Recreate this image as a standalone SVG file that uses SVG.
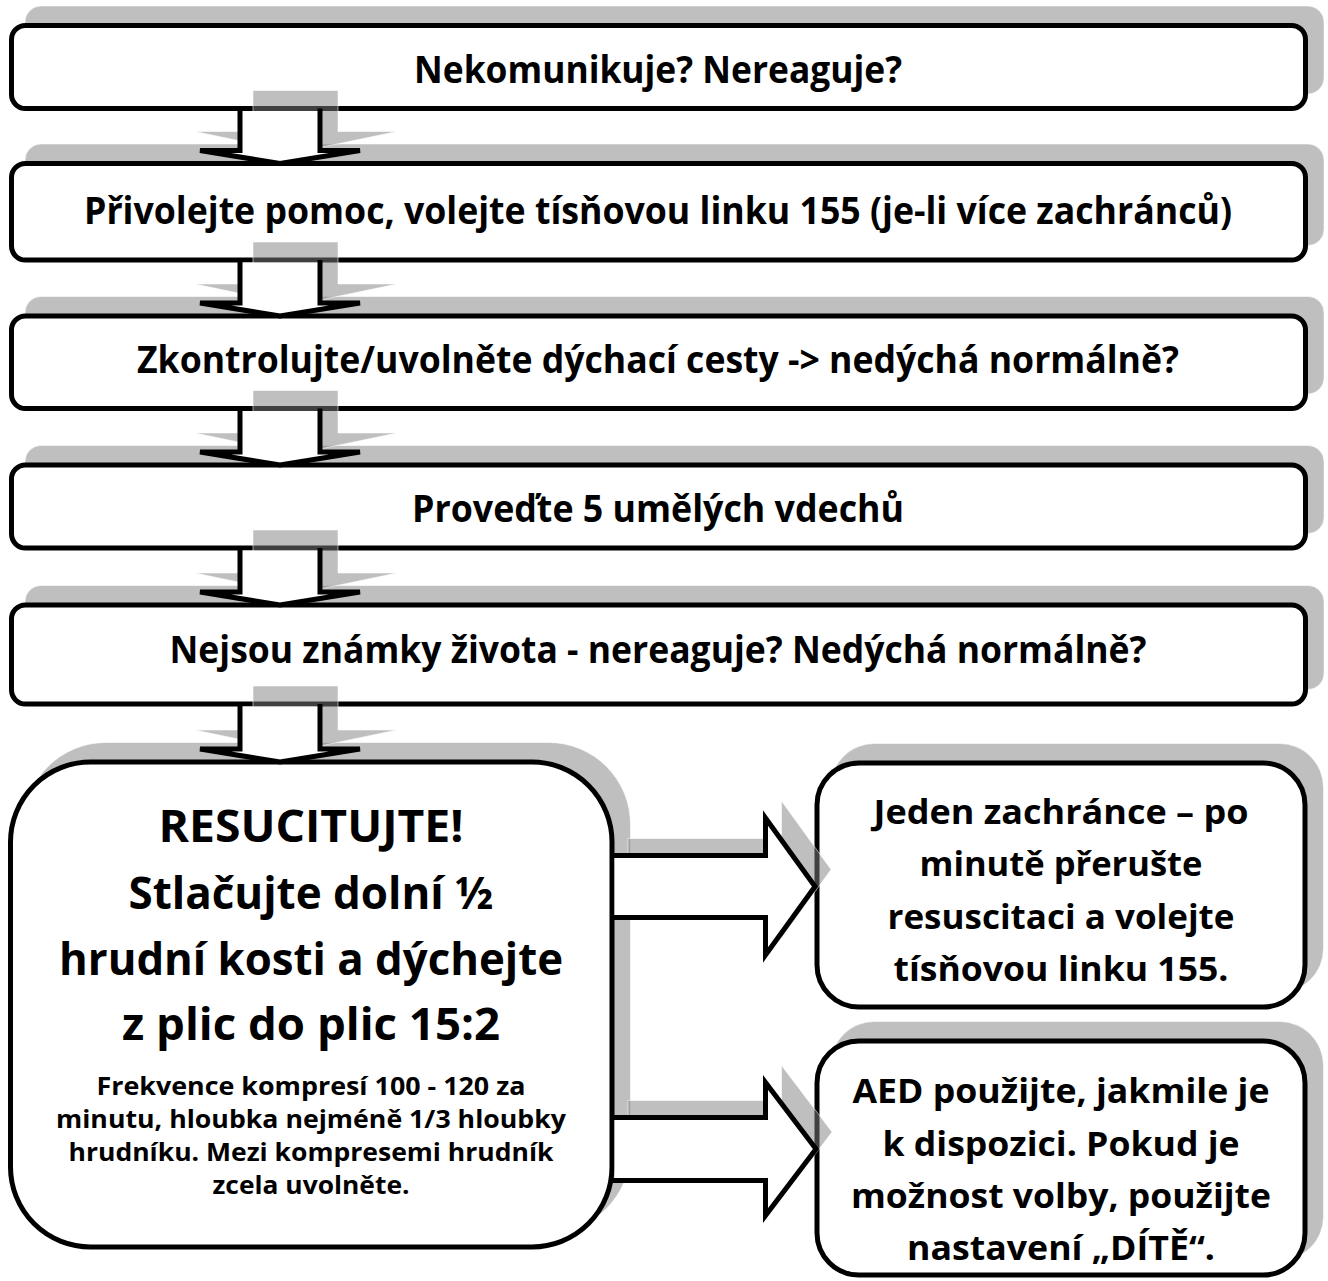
<svg xmlns="http://www.w3.org/2000/svg" width="1328" height="1281" viewBox="0 0 1328 1281">
<style>
.sh{fill:#808080;fill-opacity:.5;stroke:#fff;stroke-opacity:.55;stroke-width:1}
.bx{fill:#fff;stroke:#000;stroke-width:5}
.af{fill:#fff;stroke:none}
.ao{fill:none;stroke:#000;stroke-width:5;stroke-linejoin:miter;stroke-miterlimit:4}
text{font-family:"Open Sans","Liberation Sans",sans-serif;font-weight:700;fill:#000;text-anchor:middle}
.t1{font-size:37.5px}
.tb{font-size:45px}
.ts{font-size:25px}
.tr{font-size:34.5px}
</style>
<rect width="1328" height="1281" fill="#fff"/>
<g id="n1">
<rect class="sh" x="25" y="6" width="1299" height="88" rx="16"/>
<rect class="bx" x="11.5" y="25.5" width="1294" height="83" rx="14"/>
<text class="t1" x="658" y="82.5" textLength="488" lengthAdjust="spacingAndGlyphs">Nekomunikuje? Nereaguje?</text>
</g>
<g id="n2">
<rect class="sh" x="25" y="144" width="1299" height="101.5" rx="16"/>
<rect class="bx" x="11.5" y="163.5" width="1294" height="96.5" rx="14"/>
<text class="t1" x="658" y="223.5" textLength="1148" lengthAdjust="spacingAndGlyphs">Přivolejte pomoc, volejte tísňovou linku 155 (je-li více zachránců)</text>
</g>
<g id="n3">
<rect class="sh" x="25" y="296.5" width="1299" height="97.5" rx="16"/>
<rect class="bx" x="11.5" y="316" width="1294" height="92.5" rx="14"/>
<text class="t1" x="658" y="373" textLength="1042" lengthAdjust="spacingAndGlyphs">Zkontrolujte/uvolněte dýchací cesty -&gt; nedýchá normálně?</text>
</g>
<g id="n4">
<rect class="sh" x="25" y="445.5" width="1299" height="88" rx="16"/>
<rect class="bx" x="11.5" y="465" width="1294" height="83" rx="14"/>
<text class="t1" x="658" y="521.5" textLength="492" lengthAdjust="spacingAndGlyphs">Proveďte 5 umělých vdechů</text>
</g>
<g id="n5">
<rect class="sh" x="25" y="585.5" width="1299" height="104" rx="16"/>
<rect class="bx" x="11.5" y="605" width="1294" height="99" rx="14"/>
<text class="t1" x="658" y="663" textLength="977" lengthAdjust="spacingAndGlyphs">Nejsou známky života - nereaguje? Nedýchá normálně?</text>
</g>
<g id="n6">
<rect class="sh" x="24" y="742.5" width="606.5" height="490" rx="82"/>
<rect class="bx" x="10.5" y="762" width="601.5" height="485" rx="80"/>
<text class="tb" x="311" y="842" textLength="305" lengthAdjust="spacingAndGlyphs">RESUCITUJTE!</text>
<text class="tb" x="311" y="909" textLength="365" lengthAdjust="spacingAndGlyphs">Stlačujte dolní ½</text>
<text class="tb" x="311" y="975" textLength="504" lengthAdjust="spacingAndGlyphs">hrudní kosti a dýchejte</text>
<text class="tb" x="311" y="1040" textLength="378" lengthAdjust="spacingAndGlyphs">z plic do plic 15:2</text>
<text class="ts" x="311" y="1095" textLength="429" lengthAdjust="spacingAndGlyphs">Frekvence kompresí 100 - 120 za</text>
<text class="ts" x="311" y="1128" textLength="510" lengthAdjust="spacingAndGlyphs">minutu, hloubka nejméně 1/3 hloubky</text>
<text class="ts" x="311" y="1161" textLength="485" lengthAdjust="spacingAndGlyphs">hrudníku. Mezi kompresemi hrudník</text>
<text class="ts" x="311" y="1194" textLength="197" lengthAdjust="spacingAndGlyphs">zcela uvolněte.</text>
</g>
<g id="n7">
<rect class="sh" x="830.5" y="743.5" width="493" height="249" rx="44"/>
<rect class="bx" x="817" y="763" width="488" height="244" rx="42"/>
<text class="tr" x="1061" y="824" textLength="375" lengthAdjust="spacingAndGlyphs">Jeden zachránce – po</text>
<text class="tr" x="1061" y="876" textLength="283" lengthAdjust="spacingAndGlyphs">minutě přerušte</text>
<text class="tr" x="1061" y="929" textLength="347" lengthAdjust="spacingAndGlyphs">resuscitaci a volejte</text>
<text class="tr" x="1061" y="981" textLength="335" lengthAdjust="spacingAndGlyphs">tísňovou linku 155.</text>
</g>
<g id="n8">
<rect class="sh" x="830.5" y="1021.5" width="493" height="239" rx="44"/>
<rect class="bx" x="817" y="1041" width="488" height="234" rx="42"/>
<text class="tr" x="1061" y="1103" textLength="417" lengthAdjust="spacingAndGlyphs">AED použijte, jakmile je</text>
<text class="tr" x="1061" y="1156" textLength="357" lengthAdjust="spacingAndGlyphs">k dispozici. Pokud je</text>
<text class="tr" x="1061" y="1208" textLength="420" lengthAdjust="spacingAndGlyphs">možnost volby, použijte</text>
<text class="tr" x="1061" y="1260" textLength="308" lengthAdjust="spacingAndGlyphs">nastavení „DÍTĚ“.</text>
</g>
<g id="connectors">
<polygon class="sh" points="253,90.5 338,90.5 338,131.5 397,131.5 296,152.5 195,131.5 253,131.5"/>
<polygon class="af" points="240,111 240,150.5 200,150.5 280,163.5 360,150.5 320,150.5 320,111"/>
<path class="ao" d="M240,108.5 V150.5 H200 L280,163.5 L360,150.5 H320 V108.5"/>
<polygon class="sh" points="253,242 338,242 338,284 397,284 296,305 195,284 253,284"/>
<polygon class="af" points="240,262.5 240,303 200,303 280,316 360,303 320,303 320,262.5"/>
<path class="ao" d="M240,260 V303 H200 L280,316 L360,303 H320 V260"/>
<polygon class="sh" points="253,390.5 338,390.5 338,433 397,433 296,454 195,433 253,433"/>
<polygon class="af" points="240,411 240,452 200,452 280,465 360,452 320,452 320,411"/>
<path class="ao" d="M240,408.5 V452 H200 L280,465 L360,452 H320 V408.5"/>
<polygon class="sh" points="253,530 338,530 338,573 397,573 296,594 195,573 253,573"/>
<polygon class="af" points="240,550.5 240,592 200,592 280,605 360,592 320,592 320,550.5"/>
<path class="ao" d="M240,548 V592 H200 L280,605 L360,592 H320 V548"/>
<polygon class="sh" points="253,686 338,686 338,730 397,730 296,751 195,730 253,730"/>
<polygon class="af" points="240,706.5 240,749 200,749 280,762 360,749 320,749 320,706.5"/>
<path class="ao" d="M240,704 V749 H200 L280,762 L360,749 H320 V704"/>
<polygon class="sh" points="628,838.5 781.5,838.5 781.5,801 831,869.5 781.5,938 781.5,900.5 628,900.5"/>
<polygon class="af" points="614.5,855.5 765.5,855.5 765.5,818 815,886.5 765.5,955 765.5,917.5 614.5,917.5"/>
<path class="ao" d="M612,855.5 H765.5 V818 L815,886.5 L765.5,955 V917.5 H612"/>
<polygon class="sh" points="628,1100.5 781.5,1100.5 781.5,1065.5 832,1132 781.5,1198.5 781.5,1163.5 628,1163.5"/>
<polygon class="af" points="614.5,1117.5 765.5,1117.5 765.5,1082.5 816,1149 765.5,1215.5 765.5,1180.5 614.5,1180.5"/>
<path class="ao" d="M612,1117.5 H765.5 V1082.5 L816,1149 L765.5,1215.5 V1180.5 H612"/>
</g>
</svg>
